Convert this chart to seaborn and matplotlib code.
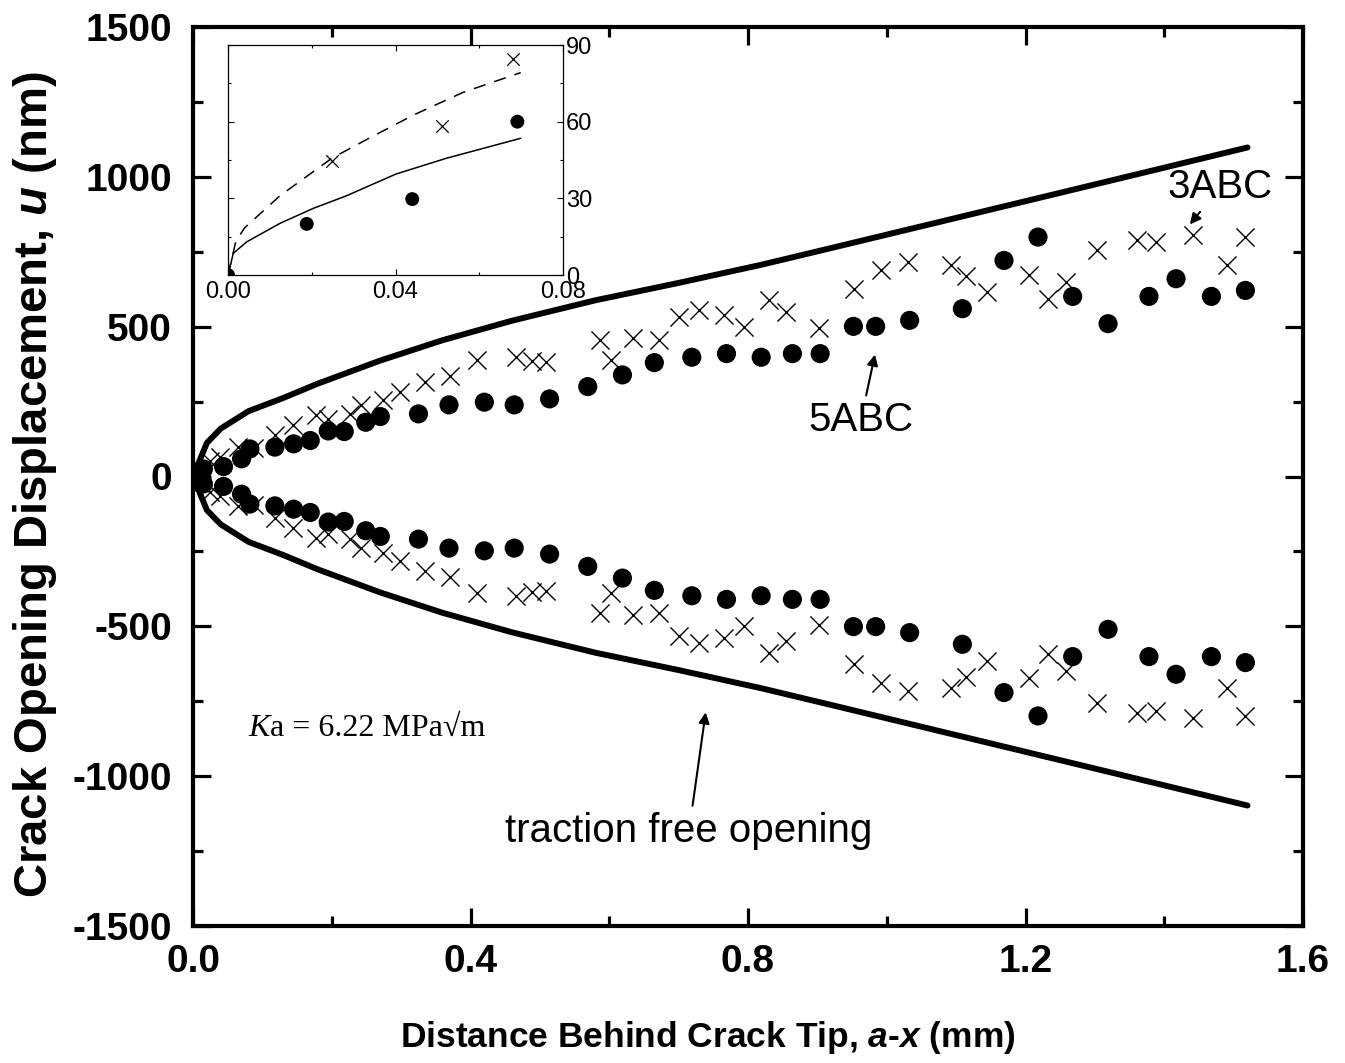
import matplotlib
matplotlib.use("Agg")
import matplotlib.pyplot as plt
from matplotlib.ticker import MultipleLocator, FixedLocator
import seaborn as sns
import pandas as pd

# ---------------- data ----------------
# traction free opening (upper branch; lower branch is its mirror)
curve_x = [0, 0.02, 0.04, 0.08, 0.13, 0.18, 0.27, 0.36, 0.46, 0.58, 0.70, 0.82,
           0.93, 1.05, 1.17, 1.29, 1.39, 1.52]
curve_u = [0, 112, 160, 218, 262, 310, 387, 455, 520, 588, 646, 707,
           768, 835, 902, 969, 1025, 1098]

# 5ABC (filled circles), upper half
c5_x = [0.005, 0.015, 0.044, 0.070, 0.082, 0.118, 0.145, 0.169, 0.195, 0.218,
        0.249, 0.270, 0.325, 0.369, 0.420, 0.463, 0.514, 0.569, 0.619, 0.665,
        0.719, 0.769, 0.819, 0.864, 0.904, 0.952, 0.984, 1.033, 1.109, 1.169,
        1.218, 1.268, 1.319, 1.378, 1.417, 1.468, 1.517]
c5_u = [8, 25, 33, 59, 92, 98, 109, 120, 152, 150,
        181, 200, 209, 239, 248, 239, 259, 300, 339, 380,
        398, 410, 398, 410, 410, 501, 501, 521, 560, 721,
        799, 601, 510, 601, 660, 601, 621]

# 3ABC (crosses), upper half
c3_x = [0.012, 0.024, 0.039, 0.065, 0.088, 0.118, 0.144, 0.178, 0.194, 0.226,
        0.242, 0.274, 0.298, 0.335, 0.370, 0.409, 0.466, 0.488, 0.509, 0.587,
        0.603, 0.634, 0.672, 0.700, 0.730, 0.766, 0.794, 0.830, 0.855, 0.902,
        0.953, 0.991, 1.031, 1.092, 1.114, 1.145, 1.205, 1.232, 1.258, 1.303,
        1.360, 1.388, 1.442, 1.490, 1.517]
c3_u = [25, 53, 64, 98, 95, 140, 173, 204, 193, 209,
        237, 254, 282, 315, 334, 389, 398, 387, 382, 454,
        390, 463, 454, 532, 557, 538, 498, 588, 549, 495,
        625, 690, 716, 707, 668, 615, 671, 593, 649, 755,
        790, 782, 805, 705, 799]

# inset
in_solid_x = [0, 0.00127, 0.0045, 0.0124, 0.0204, 0.0283, 0.0401, 0.0522, 0.0699]
in_solid_u = [0, 8.5, 13.0, 20.2, 26.1, 31.0, 39.5, 45.7, 53.5]
in_dash_x = [0, 0.0019, 0.0040, 0.0124, 0.0248, 0.0331, 0.0443, 0.0562, 0.0699]
in_dash_u = [0, 13.4, 18.5, 31.0, 45.7, 53.0, 62.6, 71.5, 79.2]
in_c5_x = [0.0, 0.0188, 0.0440, 0.0691]
in_c5_u = [0.0, 20.0, 29.7, 60.0]
in_c3_x = [0.0248, 0.0510, 0.0681]
in_c3_u = [44.6, 58.3, 84.4]

x_ticks = [0.0, 0.4, 0.8, 1.2, 1.6]
y_ticks = [-1500, -1000, -500, 0, 500, 1000, 1500]
inset_x_ticks = [0.0, 0.04, 0.08]
inset_y_ticks = [0, 30, 60, 90]

# ---------------- style ----------------
sns.set_style("ticks")
plt.rcParams['font.family'] = ['Liberation Sans', 'DejaVu Sans']
plt.rcParams['mathtext.fontset'] = 'custom'
plt.rcParams['mathtext.rm'] = 'Liberation Sans:bold'
plt.rcParams['mathtext.it'] = 'Liberation Sans:bold:italic'
plt.rcParams['mathtext.bf'] = 'Liberation Sans:bold'
for k in ['text.color', 'axes.labelcolor', 'xtick.color', 'ytick.color',
          'axes.edgecolor']:
    plt.rcParams[k] = 'black'

fig = plt.figure(figsize=(13.45, 10.63), dpi=100)
ax = fig.add_axes([193/1345, 1 - 926/1063, (1303-193)/1345, (926-27)/1063])

df_curve = pd.DataFrame({"x": curve_x + curve_x,
                         "u": curve_u + [-v for v in curve_u],
                         "branch": ["up"] * len(curve_x) + ["down"] * len(curve_x)})
for br in ["up", "down"]:
    sns.lineplot(data=df_curve[df_curve.branch == br], x="x", y="u", color="black",
                 lw=4.3, sort=False, estimator=None, ax=ax, legend=False)

df5 = pd.DataFrame({"x": c5_x + c5_x, "u": c5_u + [-v for v in c5_u]})
df3 = pd.DataFrame({"x": c3_x + c3_x, "u": c3_u + [-v for v in c3_u]})
sns.scatterplot(data=df3, x="x", y="u", marker="x", s=170, color="black",
                linewidth=1.0, ax=ax, legend=False, zorder=3)
sns.scatterplot(data=df5, x="x", y="u", marker="o", s=190, color="black",
                edgecolor="none", ax=ax, legend=False, zorder=4)

ax.set_xlim(0, 1.6)
ax.set_ylim(-1500, 1500)
ax.xaxis.set_major_locator(FixedLocator(x_ticks))
ax.yaxis.set_major_locator(FixedLocator(y_ticks))
ax.xaxis.set_minor_locator(MultipleLocator(0.2))
ax.yaxis.set_minor_locator(MultipleLocator(250))
ax.set_xticklabels([f"{v:.1f}" for v in x_ticks])
ax.set_yticklabels([str(v) for v in y_ticks])
for s in ax.spines.values():
    s.set_linewidth(3)
    s.set_visible(True)
ax.tick_params(which='both', direction='in', top=True, right=True, width=2.3)
ax.tick_params(which='major', length=13)
ax.tick_params(which='minor', length=7.5)
ax.tick_params(axis='x', which='major', pad=13, labelsize=28)
ax.tick_params(axis='y', which='major', pad=15, labelsize=28)
for lab in ax.get_xticklabels() + ax.get_yticklabels():
    lab.set_fontweight('bold')

ax.set_xlabel(r"Distance Behind Crack Tip, $a$-$x$ (mm)", fontsize=25.5,
              fontweight='bold', labelpad=28)
ax.set_ylabel(r"Crack Opening Displacement, $u$ (nm)", fontsize=34,
              fontweight='bold', labelpad=10)
ax.xaxis.label.set_x((708 - 193) / 1110)
ax.yaxis.label.set_y((926 - 485) / 899)

# annotations
arrow = dict(arrowstyle='-|>', color='black', lw=1.5, mutation_scale=16,
             shrinkA=2, shrinkB=0)
ax.annotate("3ABC", xy=(1.437, 841), xytext=(1.480, 965), fontsize=29,
            ha='center', va='center', arrowprops=arrow)
ax.annotate("5ABC", xy=(0.983, 407), xytext=(0.9625, 187), fontsize=29,
            ha='center', va='center', arrowprops=arrow)
ax.annotate("traction free opening", xy=(0.739, -787), xytext=(0.715, -1182),
            fontsize=29, ha='center', va='center', arrowprops=arrow)
kx = (252.7 + 17 - 193) / 694
ax.text(kx, -841, "K", fontsize=23, style='italic', ha='right', va='center',
        family=['Liberation Serif', 'DejaVu Serif'])
ax.text(kx, -841, "a = 6.22 MPa\u221am", fontsize=23, ha='left', va='center',
        family=['Liberation Serif', 'DejaVu Serif'])

# ---------------- inset ----------------
axi = fig.add_axes([228/1345, 1 - 275/1063, 335/1345, 230/1063])
axi.set_zorder(5)
axi.set_facecolor("white")
sns.lineplot(x=in_solid_x, y=in_solid_u, color="black", lw=1.1, sort=False,
             estimator=None, ax=axi, legend=False)
sns.lineplot(x=in_dash_x, y=in_dash_u, color="black", lw=1.1, sort=False,
             estimator=None, ax=axi, legend=False, linestyle=(0, (8, 6)))
sns.scatterplot(x=in_c3_x, y=in_c3_u, marker="x", s=80, color="black",
                linewidth=0.9, ax=axi, legend=False)
sns.scatterplot(x=in_c5_x, y=in_c5_u, marker="o", s=100, color="black",
                edgecolor="none", ax=axi, legend=False)
axi.set_xlim(0, 0.08)
axi.set_ylim(0, 90)
axi.xaxis.set_major_locator(FixedLocator(inset_x_ticks))
axi.xaxis.set_minor_locator(MultipleLocator(0.02))
axi.yaxis.set_major_locator(FixedLocator(inset_y_ticks))
axi.yaxis.set_minor_locator(MultipleLocator(15))
axi.set_xticklabels(["0.00", "0.04", "0.08"])
axi.set_yticklabels([str(v) for v in inset_y_ticks])
for s in axi.spines.values():
    s.set_linewidth(0.9)
    s.set_visible(True)
axi.tick_params(which='both', direction='in', top=True, right=True, left=True,
                bottom=True, labelleft=False, labelright=True, width=0.8,
                labelsize=17)
axi.tick_params(which='major', length=4)
axi.tick_params(which='minor', length=2.5)
axi.tick_params(axis='y', pad=2)
axi.tick_params(axis='x', pad=4)
axi.set_xlabel("")
axi.set_ylabel("")

fig.savefig("out.png", dpi=100)
